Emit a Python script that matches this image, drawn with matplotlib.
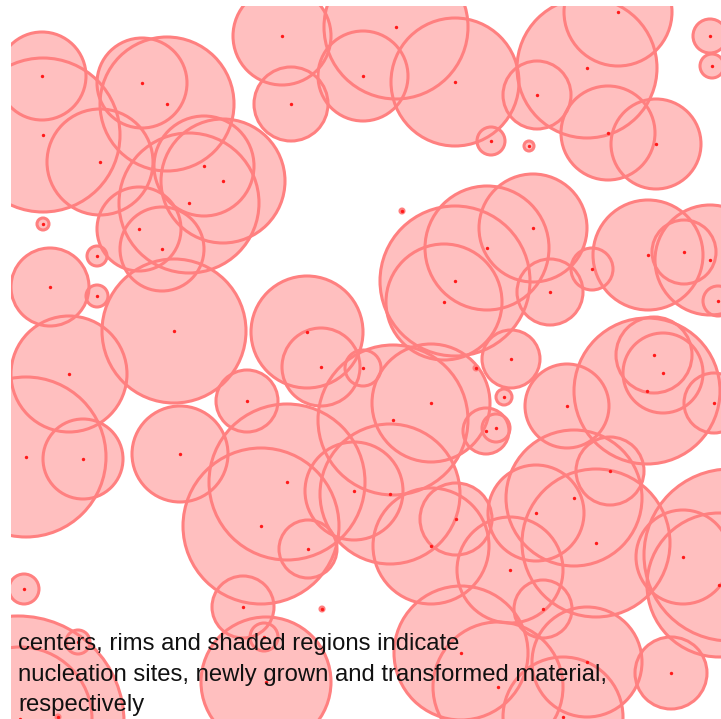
import numpy as np
import matplotlib
matplotlib.use('Agg')
import matplotlib.pyplot as plt
from matplotlib.patches import Circle
from matplotlib.collections import PatchCollection

plt.rcParams['font.family'] = ['Liberation Sans', 'DejaVu Sans']

# nucleation sites (x, y) and grain radii, in grid units
cx = [42, 43, 100, 142, 167, 204, 223, 189, 139, 162, 43, 97, 97,
      282, 396, 363, 455, 291, 618, 587, 537, 608, 656, 710, 712, 491, 529,
      50, 174, 69, 26, 83, 180, 247,
      533, 487, 455, 444, 550, 592, 511, 504,
      648, 684, 710, 718, 654, 663, 647, 714,
      307, 321, 363, 431, 393, 567, 486, 496,
      261, 287, 354, 390, 431, 456, 308, 243, 264, 266,
      610, 574, 536, 596, 510, 543, 461, 498, 587, 563, 671, 683, 719, 730,
      24, 18, 20, 78, 402, 322, 476, 58]
cy = [76, 135, 162, 83, 104, 166, 181, 203, 229, 249, 224, 256, 296,
      36, 27, 76, 82, 104, 12, 68, 95, 133, 144, 36, 66, 141, 146,
      287, 331, 374, 457, 459, 454, 401,
      228, 248, 281, 302, 292, 269, 359, 397,
      255, 252, 260, 301, 355, 373, 391, 403,
      332, 367, 368, 403, 420, 406, 431, 428,
      526, 482, 491, 494, 546, 519, 549, 607, 637, 682,
      471, 498, 513, 543, 570, 609, 653, 687, 662, 717, 673, 557, 585, 555,
      589, 722, 719, 642, 211, 609, 368, 717]
r = [44, 77, 53, 45, 67, 50, 62, 70, 42, 42, 6, 10, 11,
     49, 72, 45, 64, 37, 54, 70, 34, 47, 45, 17, 12, 14, 5,
     39, 72, 58, 80, 40, 48, 31,
     54, 62, 75, 58, 33, 21, 29, 8,
     55, 32, 55, 15, 38, 40, 73, 30,
     56, 39, 18, 59, 75, 42, 23, 14,
     78, 78, 49, 70, 58, 36, 29, 31, 14, 65,
     34, 68, 48, 74, 53, 29, 67, 65, 55, 60, 36, 47, 72, 86,
     15, 106, 72, 12, 2, 2, 2, 2]

caption = ["centers, rims and shaded regions indicate",
           "nucleation sites, newly grown and transformed material,",
           "respectively"]

fig = plt.figure(figsize=(7.21, 7.19), dpi=100)
ax = fig.add_axes([11 / 721, 0, 710 / 721, 713 / 719])
ax.set_xlim(11, 721)
ax.set_ylim(719, 6)
ax.axis('off')

# transformed material: opaque fill of every grain
fills = [Circle((x, y), rr) for x, y, rr in zip(cx, cy, r)]
ax.add_collection(PatchCollection(fills, facecolor='#ffbfbf', edgecolor='none', zorder=1))

# newly grown rim on top of all fills
rims = [Circle((x, y), rr) for x, y, rr in zip(cx, cy, r)]
ax.add_collection(PatchCollection(rims, facecolor='none', edgecolor='#ff8080',
                                  linewidth=2.2, zorder=2))

# nucleation sites
ax.scatter(cx, cy, s=6, color='#ff1a1a', linewidths=0, zorder=3)

for i, line in enumerate(caption):
    fig.text(18 / 721, 1 - (650 + 30.5 * i) / 719, line, fontsize=17.2,
             color='#111111', ha='left', va='baseline')

fig.savefig('out.png', dpi=100)
